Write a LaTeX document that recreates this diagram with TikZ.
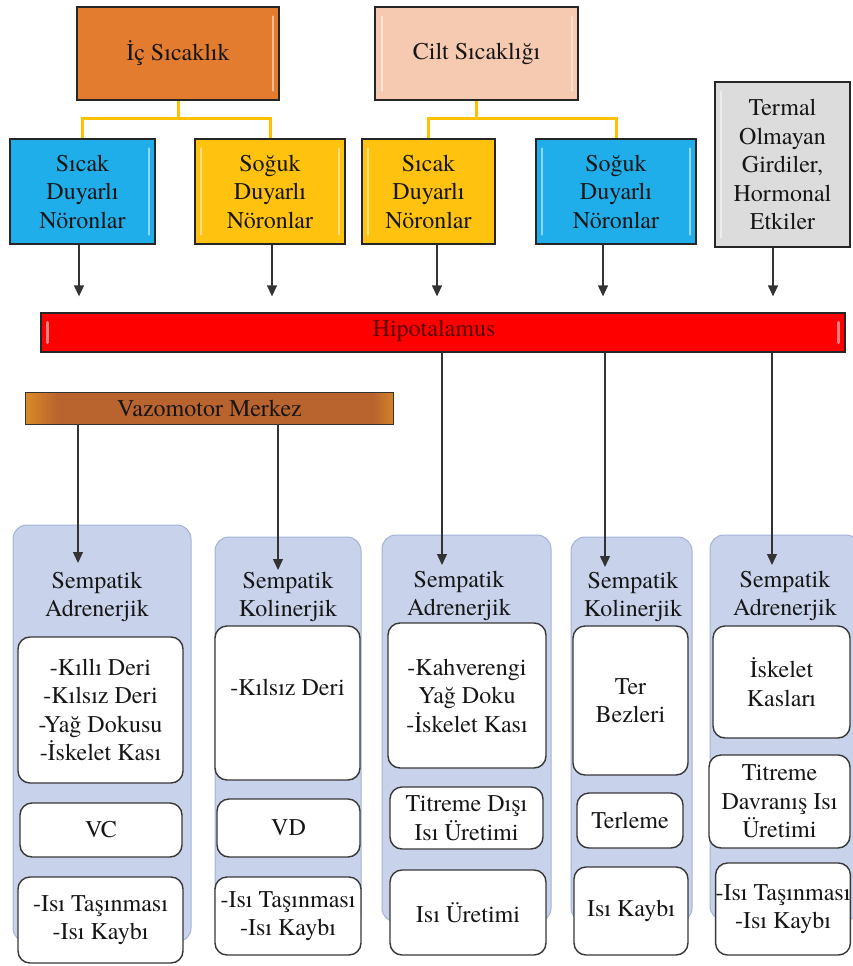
\documentclass[tikz,border=0pt]{standalone}
\usepackage{fontspec}
\IfFontExistsTF{texgyretermes-regular.otf}
  {\setmainfont{texgyretermes-regular.otf}}
  {\setmainfont{Liberation Serif}}
\usetikzlibrary{arrows.meta,calc}

\definecolor{icorange}{HTML}{E47C30}
\definecolor{ciltpeach}{HTML}{F6CAB1}
\definecolor{warmblue}{HTML}{20AEEA}
\definecolor{coldyellow}{HTML}{FFC20E}
\definecolor{termgray}{HTML}{DCDCDC}
\definecolor{hypred}{HTML}{FF0000}
\definecolor{hyptext}{HTML}{5A0505}
\definecolor{vzmid}{HTML}{B9632F}
\definecolor{vzedge}{HTML}{D98A26}
\definecolor{panelfill}{HTML}{C8D2EB}
\definecolor{panelline}{HTML}{A3B3D8}
\definecolor{feedyellow}{HTML}{FFC000}
\definecolor{inkdark}{HTML}{161616}

\begin{document}
\begin{tikzpicture}[x=1pt,y=-1pt,
  font=\fontsize{24}{28.5}\selectfont,
  topbox/.style={draw=black!85, line width=1.3pt, align=center, inner sep=0pt, text=inkdark},
  panel/.style={draw=panelline, fill=panelfill, rounded corners=14pt, line width=1pt},
  cell/.style={draw=black!78, fill=white, rounded corners=12pt, line width=1.4pt, align=center, inner sep=0pt, text=inkdark},
  head/.style={align=center, inner sep=0pt, text=inkdark},
  arr/.style={draw=black!80, line width=1.3pt, -{Triangle[width=10pt,length=11pt]}},
  feed/.style={draw=feedyellow, line width=3pt},
  glint/.style={white, line width=2pt, line cap=round, opacity=0.5},
]
\useasboundingbox (0,0) rectangle (852,966);

% ---- temperature sources ----
\node[topbox, fill=icorange, minimum width=202pt, minimum height=93pt] (ic) at (178,53.5) {İç Sıcaklık};
\node[topbox, fill=ciltpeach, minimum width=203pt, minimum height=93pt] (cilt) at (476.5,53.5) {Cilt Sıcaklığı};
\node[topbox, fill=termgray, minimum width=135pt, minimum height=165pt] (term) at (782.5,164.5) {Termal\\Olmayan\\Girdiler,\\Hormonal\\Etkiler};

% ---- sensing neurons ----
\node[topbox, fill=warmblue, minimum width=145pt, minimum height=105pt] (s1) at (82.5,191.5) {Sıcak\\Duyarlı\\Nöronlar};
\node[topbox, fill=coldyellow, minimum width=150pt, minimum height=105pt] (s2) at (270,191.5) {Soğuk\\Duyarlı\\Nöronlar};
\node[topbox, fill=coldyellow, minimum width=133pt, minimum height=105pt] (s3) at (428.5,191.5) {Sıcak\\Duyarlı\\Nöronlar};
\node[topbox, fill=warmblue, minimum width=160pt, minimum height=105pt] (s4) at (616,191.5) {Soğuk\\Duyarlı\\Nöronlar};

% bevel highlights
\draw[glint] ([xshift=-7pt,yshift=-10pt]ic.north east) -- ([xshift=-7pt,yshift=10pt]ic.south east);
\draw[glint] ([xshift=8pt,yshift=-10pt]cilt.north west) -- ([xshift=8pt,yshift=10pt]cilt.south west);
\draw[glint] ([xshift=-7pt,yshift=-10pt]cilt.north east) -- ([xshift=-7pt,yshift=10pt]cilt.south east);
\draw[glint] ([xshift=7pt,yshift=-10pt]term.north west) -- ([xshift=7pt,yshift=10pt]term.south west);
\draw[glint] ([xshift=-7pt,yshift=-10pt]s1.north east) -- ([xshift=-7pt,yshift=10pt]s1.south east);
\draw[glint] ([xshift=7pt,yshift=-10pt]s2.north west) -- ([xshift=7pt,yshift=10pt]s2.south west);
\draw[glint] ([xshift=-7pt,yshift=-10pt]s2.north east) -- ([xshift=-7pt,yshift=10pt]s2.south east);
\draw[glint] ([xshift=7pt,yshift=-10pt]s3.north west) -- ([xshift=7pt,yshift=10pt]s3.south west);
\draw[glint] ([xshift=7pt,yshift=-10pt]s4.north west) -- ([xshift=7pt,yshift=10pt]s4.south west);
\draw[glint] ([xshift=-7pt,yshift=-10pt]s4.north east) -- ([xshift=-7pt,yshift=10pt]s4.south east);

% yellow feed lines
\coordinate (yl) at (0,118);
\draw[feed] (ic.south) -- (ic.south |- yl);
\draw[feed] (s1.north) |- (ic.south |- yl) -| (s2.north);
\draw[feed] (cilt.south) -- (cilt.south |- yl);
\draw[feed] (s3.north) |- (cilt.south |- yl) -| (s4.north);

% ---- hypothalamus and vasomotor centre ----
\node[topbox, fill=hypred, minimum width=804pt, minimum height=39pt] (hyp) at (443,332.5) {};
\node[text=hyptext, inner sep=0pt] (hyplbl) at (434,331) {Hipotalamus};
\draw[glint, line width=3pt] ([xshift=7pt,yshift=-10pt]hyp.north west) -- ([xshift=7pt,yshift=10pt]hyp.south west);
\draw[glint, line width=3pt] ([xshift=-7pt,yshift=-10pt]hyp.north east) -- ([xshift=-7pt,yshift=10pt]hyp.south east);

\node[fill=vzmid, inner sep=0pt, minimum width=367pt, minimum height=31pt] (vaz) at (209.5,408.5) {};
\shade[left color=vzedge, right color=vzmid] (vaz.north west) rectangle ([xshift=32pt]vaz.south west);
\shade[left color=vzmid, right color=vzedge!80!vzmid] ([xshift=-20pt]vaz.north east) rectangle (vaz.south east);
\draw[black!80, line width=1.2pt] (vaz.north west) rectangle (vaz.south east);
\node[text=inkdark, inner sep=0pt] (vazlbl) at (vaz.center) {Vazomotor Merkez};

% inputs into the hypothalamus
\draw[arr, shorten >=16pt] ([xshift=-3.5pt]s1.south) -- ([xshift=-3.5pt]s1.south |- hyp.north);
\draw[arr, shorten >=16pt] ([xshift=2pt]s2.south) -- ([xshift=2pt]s2.south |- hyp.north);
\draw[arr, shorten >=16pt] ([xshift=8.5pt]s3.south) -- ([xshift=8.5pt]s3.south |- hyp.north);
\draw[arr, shorten >=16pt] ([xshift=-13pt]s4.south) -- ([xshift=-13pt]s4.south |- hyp.north);
\draw[arr, shorten >=16pt] ([xshift=-9.5pt]term.south) -- ([xshift=-9.5pt]term.south |- hyp.north);

% ---- effector columns ----
\node[panel, minimum width=178pt, minimum height=417pt] (p1) at (102,733.5) {};
\node[panel, minimum width=146pt, minimum height=393pt] (p2) at (288,733.5) {};
\node[panel, minimum width=169pt, minimum height=387pt] (p3) at (466.5,728.5) {};
\node[panel, minimum width=121pt, minimum height=385pt] (p4) at (631.5,729.5) {};
\node[panel, minimum width=150pt, minimum height=385pt] (p5) at (785,727.5) {};

\node[head] (h1) at (97,597) {Sempatik\\Adrenerjik};
\node[head] (h2) at (288,597) {Sempatik\\Kolinerjik};
\node[head] (h3) at (459,596) {Sempatik\\Adrenerjik};
\node[head] (h4) at (633,597) {Sempatik\\Kolinerjik};
\node[head] (h5) at (785,596) {Sempatik\\Adrenerjik};

% column 1
\node[cell, minimum width=165pt, minimum height=146pt] (b11) at (100.5,710) {-Kıllı Deri\\-Kılsız Deri\\-Yağ Dokusu\\-İskelet Kası};
\node[cell, minimum width=162pt, minimum height=54pt] (b12) at (101,830) {VC};
\node[cell, minimum width=165pt, minimum height=86pt] (b13) at (100.5,920) {-Isı Taşınması\\-Isı Kaybı};
% column 2
\node[cell, minimum width=145pt, minimum height=154pt, text depth=31pt] (b21) at (287.5,703) {-Kılsız Deri};
\node[cell, minimum width=143pt, minimum height=58pt] (b22) at (288.5,828) {VD};
\node[cell, minimum width=146pt, minimum height=78pt] (b23) at (288,916) {-Isı Taşınması\\-Isı Kaybı};
% column 3
\node[cell, minimum width=158pt, minimum height=145pt] (b31) at (467,695.5) {-Kahverengi\\Yağ Doku\\-İskelet Kası};
\node[cell, minimum width=153pt, minimum height=62pt] (b32) at (466.5,818) {Titreme Dışı\\Isı Üretimi};
\node[cell, minimum width=156pt, minimum height=85pt] (b33) at (468,912.5) {Isı Üretimi};
% column 4
\node[cell, minimum width=115pt, minimum height=149pt] (b41) at (630.5,700.5) {Ter\\Bezleri};
\node[cell, minimum width=106pt, minimum height=55pt] (b42) at (630,820.5) {Terleme};
\node[cell, minimum width=114pt, minimum height=88pt] (b43) at (631,911) {Isı Kaybı};
% column 5
\node[cell, minimum width=137pt, minimum height=112pt] (b51) at (781.5,682) {İskelet\\Kasları};
\node[cell, minimum width=141pt, minimum height=93pt] (b52) at (779.5,801.5) {Titreme\\Davranış Isı\\Üretimi};
\node[cell, minimum width=134pt, minimum height=92pt] (b53) at (783,909) {-Isı Taşınması\\-Isı Kaybı};

% ---- outputs into the columns ----
\coordinate (t1) at (78,563);
\coordinate (t2) at (278,570);
\coordinate (t3) at (442,565);
\coordinate (t4) at (605,567);
\coordinate (t5) at (772,565);
\draw[arr] (vaz.south -| t1) -- (t1);
\draw[arr] (vaz.south -| t2) -- (t2);
\draw[arr] (hyp.south -| t3) -- (t3);
\draw[arr] (hyp.south -| t4) -- (t4);
\draw[arr] (hyp.south -| t5) -- (t5);
\end{tikzpicture}
\end{document}
